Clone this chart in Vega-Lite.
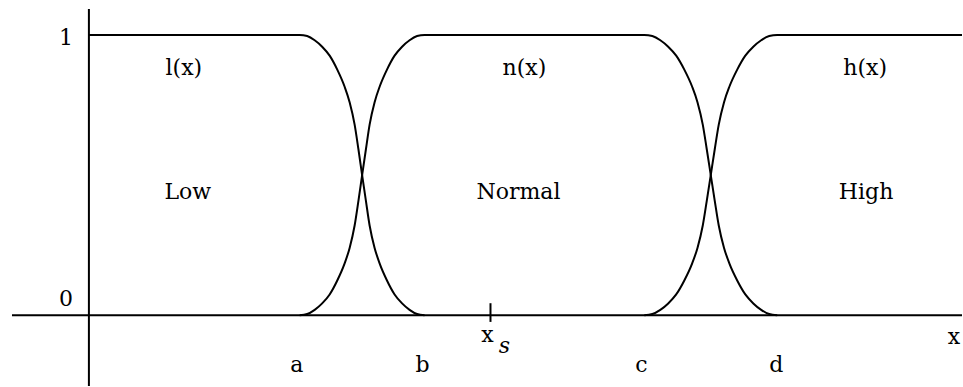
{
  "$schema": "https://vega.github.io/schema/vega-lite/v6.json",
  "width": 963,
  "height": 387,
  "padding": 0,
  "autosize": {"type": "fit", "contains": "padding"},
  "background": "white",
  "config": {"view": {"stroke": null}},
  "datasets": {
    "curves": [
      {"s": "l", "u": 0, "v": 1}, {"s": "l", "u": 2.11, "v": 1}, {"s": "l", "u": 2.185, "v": 0.996}, {"s": "l", "u": 2.26, "v": 0.981}, {"s": "l", "u": 2.335, "v": 0.958}, {"s": "l", "u": 2.41, "v": 0.926}, {"s": "l", "u": 2.485, "v": 0.877}, {"s": "l", "u": 2.56, "v": 0.815}, {"s": "l", "u": 2.61, "v": 0.76}, {"s": "l", "u": 2.66, "v": 0.68}, {"s": "l", "u": 2.698, "v": 0.592}, {"s": "l", "u": 2.735, "v": 0.5}, {"s": "l", "u": 2.773, "v": 0.408}, {"s": "l", "u": 2.81, "v": 0.32}, {"s": "l", "u": 2.86, "v": 0.24}, {"s": "l", "u": 2.91, "v": 0.185}, {"s": "l", "u": 2.985, "v": 0.123}, {"s": "l", "u": 3.06, "v": 0.074}, {"s": "l", "u": 3.135, "v": 0.042}, {"s": "l", "u": 3.21, "v": 0.019}, {"s": "l", "u": 3.285, "v": 0.004}, {"s": "l", "u": 3.36, "v": 0},
      {"s": "n", "u": 2.11, "v": 0}, {"s": "n", "u": 2.185, "v": 0.004}, {"s": "n", "u": 2.26, "v": 0.019}, {"s": "n", "u": 2.335, "v": 0.042}, {"s": "n", "u": 2.41, "v": 0.074}, {"s": "n", "u": 2.485, "v": 0.123}, {"s": "n", "u": 2.56, "v": 0.185}, {"s": "n", "u": 2.61, "v": 0.24}, {"s": "n", "u": 2.66, "v": 0.32}, {"s": "n", "u": 2.698, "v": 0.408}, {"s": "n", "u": 2.735, "v": 0.5}, {"s": "n", "u": 2.773, "v": 0.592}, {"s": "n", "u": 2.81, "v": 0.68}, {"s": "n", "u": 2.86, "v": 0.76}, {"s": "n", "u": 2.91, "v": 0.815}, {"s": "n", "u": 2.985, "v": 0.877}, {"s": "n", "u": 3.06, "v": 0.926}, {"s": "n", "u": 3.135, "v": 0.958}, {"s": "n", "u": 3.21, "v": 0.981}, {"s": "n", "u": 3.285, "v": 0.996}, {"s": "n", "u": 3.36, "v": 1},
      {"s": "n", "u": 5.56, "v": 1}, {"s": "n", "u": 5.64, "v": 0.996}, {"s": "n", "u": 5.72, "v": 0.981}, {"s": "n", "u": 5.799, "v": 0.958}, {"s": "n", "u": 5.879, "v": 0.926}, {"s": "n", "u": 5.959, "v": 0.877}, {"s": "n", "u": 6.039, "v": 0.815}, {"s": "n", "u": 6.092, "v": 0.76}, {"s": "n", "u": 6.145, "v": 0.68}, {"s": "n", "u": 6.185, "v": 0.592}, {"s": "n", "u": 6.225, "v": 0.5}, {"s": "n", "u": 6.265, "v": 0.408}, {"s": "n", "u": 6.305, "v": 0.32}, {"s": "n", "u": 6.358, "v": 0.24}, {"s": "n", "u": 6.411, "v": 0.185}, {"s": "n", "u": 6.491, "v": 0.123}, {"s": "n", "u": 6.571, "v": 0.074}, {"s": "n", "u": 6.651, "v": 0.042}, {"s": "n", "u": 6.73, "v": 0.019}, {"s": "n", "u": 6.81, "v": 0.004}, {"s": "n", "u": 6.89, "v": 0},
      {"s": "h", "u": 5.56, "v": 0}, {"s": "h", "u": 5.64, "v": 0.004}, {"s": "h", "u": 5.72, "v": 0.019}, {"s": "h", "u": 5.799, "v": 0.042}, {"s": "h", "u": 5.879, "v": 0.074}, {"s": "h", "u": 5.959, "v": 0.123}, {"s": "h", "u": 6.039, "v": 0.185}, {"s": "h", "u": 6.092, "v": 0.24}, {"s": "h", "u": 6.145, "v": 0.32}, {"s": "h", "u": 6.185, "v": 0.408}, {"s": "h", "u": 6.225, "v": 0.5}, {"s": "h", "u": 6.265, "v": 0.592}, {"s": "h", "u": 6.305, "v": 0.68}, {"s": "h", "u": 6.358, "v": 0.76}, {"s": "h", "u": 6.411, "v": 0.815}, {"s": "h", "u": 6.491, "v": 0.877}, {"s": "h", "u": 6.571, "v": 0.926}, {"s": "h", "u": 6.651, "v": 0.958}, {"s": "h", "u": 6.73, "v": 0.981}, {"s": "h", "u": 6.81, "v": 0.996}, {"s": "h", "u": 6.89, "v": 1}, {"s": "h", "u": 8.74, "v": 1}
    ],
    "rules": [
      {"name": "yaxis", "x": 0, "x2": 0, "y": 1.0925, "y2": -0.2527},
      {"name": "xaxis", "x": -0.77, "x2": 8.74, "y": 0, "y2": 0},
      {"name": "tick", "x": 4.02, "x2": 4.02, "y": 0.0427, "y2": -0.024}
    ],
    "labels": [
      {"t": "1", "u": -0.23, "v": 0.9644, "st": "normal"},
      {"t": "0", "u": -0.23, "v": 0.032, "st": "normal"},
      {"t": "l(x)", "u": 0.95, "v": 0.8577, "st": "normal"},
      {"t": "n(x)", "u": 4.36, "v": 0.8577, "st": "normal"},
      {"t": "h(x)", "u": 7.77, "v": 0.8577, "st": "normal"},
      {"t": "Low", "u": 0.99, "v": 0.416, "st": "normal"},
      {"t": "Normal", "u": 4.3, "v": 0.416, "st": "normal"},
      {"t": "High", "u": 7.78, "v": 0.416, "st": "normal"},
      {"t": "a", "u": 2.08, "v": -0.2028, "st": "normal"},
      {"t": "b", "u": 3.34, "v": -0.2028, "st": "normal"},
      {"t": "c", "u": 5.53, "v": -0.2028, "st": "normal"},
      {"t": "d", "u": 6.88, "v": -0.2028, "st": "normal"},
      {"t": "x", "u": 8.66, "v": -0.1032, "st": "normal"},
      {"t": "x", "u": 3.99, "v": -0.0961, "st": "normal"},
      {"t": "s", "u": 4.16, "v": -0.1352, "st": "italic"}
    ]
  },
  "layer": [
    {
      "data": {"name": "rules"},
      "mark": {"type": "rule", "color": "black", "strokeWidth": 2},
      "encoding": {
        "x": {"field": "x", "type": "quantitative", "scale": {"domain": [-0.89, 8.74], "nice": false, "zero": false}, "axis": null},
        "x2": {"field": "x2"},
        "y": {"field": "y", "type": "quantitative", "scale": {"domain": [-0.2527, 1.1246], "nice": false, "zero": false}, "axis": null},
        "y2": {"field": "y2"}
      }
    },
    {
      "data": {"name": "curves"},
      "mark": {"type": "line", "color": "black", "strokeWidth": 2, "interpolate": "monotone", "clip": true},
      "encoding": {
        "x": {"field": "u", "type": "quantitative", "scale": {"domain": [-0.89, 8.74], "nice": false, "zero": false}, "axis": null},
        "y": {"field": "v", "type": "quantitative", "scale": {"domain": [-0.2527, 1.1246], "nice": false, "zero": false}, "axis": null},
        "detail": {"field": "s", "type": "nominal"}
      }
    },
    {
      "data": {"name": "labels"},
      "transform": [{"filter": "datum.st === 'normal'"}],
      "mark": {"type": "text", "font": "DejaVu Serif", "fontSize": 22, "color": "black", "align": "center", "baseline": "alphabetic"},
      "encoding": {
        "x": {"field": "u", "type": "quantitative", "axis": null},
        "y": {"field": "v", "type": "quantitative", "axis": null},
        "text": {"field": "t", "type": "nominal"}
      }
    },
    {
      "data": {"name": "labels"},
      "transform": [{"filter": "datum.st === 'italic'"}],
      "mark": {"type": "text", "font": "DejaVu Serif", "fontSize": 22, "fontStyle": "italic", "color": "black", "align": "center", "baseline": "alphabetic"},
      "encoding": {
        "x": {"field": "u", "type": "quantitative", "axis": null},
        "y": {"field": "v", "type": "quantitative", "axis": null},
        "text": {"field": "t", "type": "nominal"}
      }
    }
  ]
}
